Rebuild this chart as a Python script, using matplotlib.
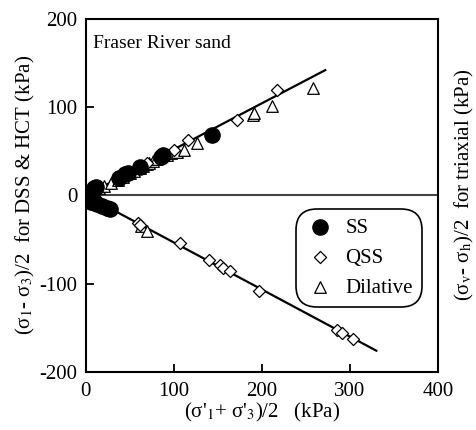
from matplotlib import pyplot as plt

plt.rcParams['font.family'] = ['Liberation Serif', 'DejaVu Serif']
plt.rcParams['mathtext.fontset'] = 'stix'
plt.rcParams['axes.unicode_minus'] = False

# steady state (SS) points, mean stress p' vs shear stress q (kPa)
ss_x = [5, 7, 9, 11, 8, 6, 10, 13, 18, 24, 27, 38, 45, 48, 62, 85, 88, 143]
ss_y = [0, 5, 8, 9, -4, -8, -9, -10, -12, -14, -15, 20, 24, 25, 32, 44, 46, 69]

# quasi steady state (QSS)
qss_x = [40, 70, 100, 116, 172, 217,
         59, 62, 107, 140, 152, 156, 164, 197, 285, 291, 304]
qss_y = [21, 37, 52, 63, 86, 119,
         -31, -33, -54, -73, -79, -82, -86, -108, -153, -156, -163]

# dilative response
dil_x = [15, 21, 28, 36, 42, 50, 55, 61, 65, 69, 72, 76, 80, 92, 97, 103, 111, 126,
         190, 191, 211, 258,
         16, 22, 63, 69]
dil_y = [8, 11, 14, 18, 21, 25, 28, 31, 33, 36, 37, 39, 41, 46, 48, 49, 52, 59,
         91, 93, 101, 122,
         -8, -11, -35, -40]

# fitted lines through the origin: slope and end of each branch
upper_slope, upper_end = 0.522, 272
lower_slope, lower_end = -0.533, 330

fig = plt.figure(figsize=(4.77, 4.30), dpi=100)
ax = fig.add_axes([0.180, 0.135, 0.738, 0.821])

ax.axhline(0, color='#444444', lw=1.5, zorder=1)
ax.plot([0, upper_end], [0, upper_slope * upper_end], color='k', lw=1.6, zorder=2)
ax.plot([0, lower_end], [0, lower_slope * lower_end], color='k', lw=1.6, zorder=2)

ax.scatter(dil_x, dil_y, marker='^', s=70, facecolor='white', edgecolor='k',
           linewidths=0.9, zorder=3, label='Dilative')
ax.scatter(qss_x, qss_y, marker='D', s=38, facecolor='white', edgecolor='k',
           linewidths=0.9, zorder=4, label='QSS')
ax.scatter(ss_x, ss_y, marker='o', s=120, facecolor='k', edgecolor='k',
           zorder=5, label='SS')

ax.set_xlim(0, 400)
ax.set_ylim(-200, 200)
ax.set_xticks([0, 100, 200, 300, 400])
ax.set_yticks([-200, -100, 0, 100, 200])
ax.tick_params(direction='in', length=6, width=1.3, labelsize=15,
               top=False, right=False)
ax.tick_params(axis='x', pad=7)
ax.tick_params(axis='y', pad=6)
for s in ax.spines.values():
    s.set_linewidth(1.5)

ax.set_xlabel("(σ'$_1$+ σ'$_3$)/2   (kPa)", fontsize=15, labelpad=0)
ax.set_ylabel("(σ$_1$- σ$_3$)/2  for DSS & HCT (kPa)", fontsize=15, labelpad=2)
ax.text(1.075, 0.53, "(σ$_\\mathrm{v}$- σ$_\\mathrm{h}$)/2  for triaxial (kPa)",
        transform=ax.transAxes, rotation=90, ha='center', va='center',
        fontsize=15)
ax.text(0.02, 0.955, 'Fraser River sand', transform=ax.transAxes,
        ha='left', va='top', fontsize=14)

h, l = ax.get_legend_handles_labels()
leg = ax.legend(h[::-1], l[::-1], loc='center right', bbox_to_anchor=(0.955, 0.323),
                fontsize=15, frameon=True, fancybox=True, edgecolor='k',
                framealpha=1, handletextpad=0.5, handlelength=1.4,
                borderpad=0.45, labelspacing=0.5, borderaxespad=0)
leg.get_frame().set_linewidth(1.2)
leg.get_frame().set_boxstyle('round', pad=0, rounding_size=1.0)

plt.savefig('out.png', dpi=100)
